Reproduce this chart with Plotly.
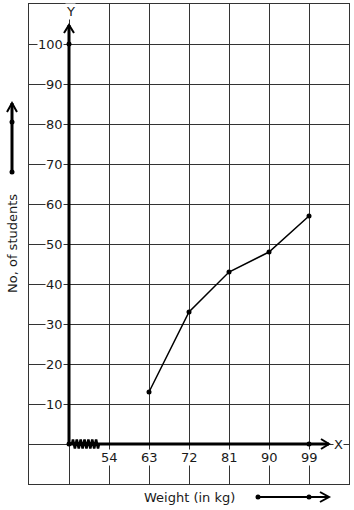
import numpy as np
import plotly.graph_objects as go

# Data
weights = [63, 72, 81, 90, 99]
students = [13, 33, 43, 48, 57]
x_tick_labels = [54, 63, 72, 81, 90, 99]
y_tick_labels = [10, 20, 30, 40, 50, 60, 70, 80, 90, 100]

X0, X1 = 36, 108   # grid extent (x)
Y0, Y1 = -10, 110  # grid extent (y)
ORIGIN_X = 45

W, H = 354, 510
L, R, T, B = 29, 5, 4, 26
pw, ph = W - L - R, H - T - B
sx = (X1 - X0) / pw   # data per px
sy = (Y1 - Y0) / ph

def px(dx):  # pixel offset -> data x
    return dx * sx
def py(dy):
    return dy * sy

FONT = "DejaVu Sans"
TXT = "#1a1a1a"

fig = go.Figure()

# axes (thick lines)
y_tip = 104.75
x_tip = 99 + px(20)
fig.add_trace(go.Scatter(x=[ORIGIN_X, ORIGIN_X], y=[0, y_tip], mode="lines",
                         line=dict(color="black", width=3), hoverinfo="skip", showlegend=False))
fig.add_trace(go.Scatter(x=[ORIGIN_X, x_tip], y=[0, 0], mode="lines",
                         line=dict(color="black", width=3), hoverinfo="skip", showlegend=False))
# arrowheads
fig.add_trace(go.Scatter(x=[ORIGIN_X - px(5), ORIGIN_X, ORIGIN_X + px(5)],
                         y=[y_tip - py(8), y_tip, y_tip - py(8)], mode="lines",
                         line=dict(color="black", width=2), hoverinfo="skip", showlegend=False))
fig.add_trace(go.Scatter(x=[x_tip - px(8), x_tip, x_tip - px(8)],
                         y=[py(5), 0, -py(5)], mode="lines",
                         line=dict(color="black", width=2), hoverinfo="skip", showlegend=False))
# zigzag (axis break)
zx = np.linspace(ORIGIN_X + px(3), ORIGIN_X + px(30), 29)
zy = np.array([0, 1, 0, -1] * 7 + [0]) * py(4.5)
fig.add_trace(go.Scatter(x=zx, y=zy, mode="lines", line=dict(color="black", width=2.5),
                         hoverinfo="skip", showlegend=False))
# axis dots
fig.add_trace(go.Scatter(x=[ORIGIN_X, ORIGIN_X, 99], y=[0, 100, 0], mode="markers",
                         marker=dict(color="black", size=5), cliponaxis=False,
                         hoverinfo="skip", showlegend=False))

# data polygon
fig.add_trace(go.Scatter(x=weights, y=students, mode="lines+markers",
                         line=dict(color="black", width=1.5),
                         marker=dict(color="black", size=5), showlegend=False))

ann = []
for v in y_tick_labels:
    ann.append(dict(x=ORIGIN_X, y=v, xref="x", yref="y", text=str(v), showarrow=False,
                    xanchor="right", yanchor="middle", xshift=-5, bgcolor="white",
                    borderpad=0, font=dict(family=FONT, size=13, color=TXT)))
for v in x_tick_labels:
    ann.append(dict(x=v, y=0, xref="x", yref="y", text=str(v), showarrow=False,
                    xanchor="center", yanchor="middle", yshift=-13, bgcolor="white",
                    borderpad=0, font=dict(family=FONT, size=13, color=TXT)))
ann.append(dict(x=ORIGIN_X, y=y_tip, xref="x", yref="y", text="Y", showarrow=False,
                xanchor="center", yanchor="middle", yshift=14, xshift=1, bgcolor="white",
                borderpad=0, font=dict(family=FONT, size=13, color=TXT)))
ann.append(dict(x=x_tip, y=0, xref="x", yref="y", text="X", showarrow=False,
                xanchor="left", yanchor="middle", xshift=4, bgcolor="white",
                borderpad=0, font=dict(family=FONT, size=13, color=TXT)))
ann.append(dict(x=(189 - L) / pw, y=-(497 - T - ph) / ph, xref="paper", yref="paper",
                text="Weight (in kg)", showarrow=False, xanchor="center", yanchor="middle",
                font=dict(family=FONT, size=13, color=TXT)))
ann.append(dict(x=(12 - L) / pw, y=(H - B - 244) / ph, xref="paper", yref="paper",
                text="No, of students", showarrow=False, textangle=-90,
                xanchor="center", yanchor="middle",
                font=dict(family=FONT, size=13, color=TXT)))

def pxp(xp):
    return (xp - L) / pw
def pyp(yp):
    return (H - B - yp) / ph

shapes = []
# left arrow
shapes.append(dict(type="line", xref="paper", yref="paper", x0=pxp(12), x1=pxp(12),
                   y0=pyp(172), y1=pyp(103), line=dict(color="black", width=3)))
shapes.append(dict(type="path", xref="paper", yref="paper",
                   path=f"M {pxp(7)} {pyp(112)} L {pxp(12)} {pyp(103)} L {pxp(17)} {pyp(112)}",
                   line=dict(color="black", width=2)))
for yy in (122, 172):
    shapes.append(dict(type="circle", xref="paper", yref="paper",
                       x0=pxp(9.5), x1=pxp(14.5), y0=pyp(yy - 2.5), y1=pyp(yy + 2.5),
                       fillcolor="black", line=dict(width=0)))
# bottom arrow
shapes.append(dict(type="line", xref="paper", yref="paper", x0=pxp(258), x1=pxp(329),
                   y0=pyp(497), y1=pyp(497), line=dict(color="black", width=2)))
shapes.append(dict(type="path", xref="paper", yref="paper",
                   path=f"M {pxp(320)} {pyp(492)} L {pxp(329)} {pyp(497)} L {pxp(320)} {pyp(502)}",
                   line=dict(color="black", width=2)))
for xx in (258, 309):
    shapes.append(dict(type="circle", xref="paper", yref="paper",
                       x0=pxp(xx - 2.5), x1=pxp(xx + 2.5), y0=pyp(497 - 2.5), y1=pyp(497 + 2.5),
                       fillcolor="black", line=dict(width=0)))

fig.update_layout(
    width=W, height=H, margin=dict(l=L, r=R, t=T, b=B),
    paper_bgcolor="white", plot_bgcolor="white",
    annotations=ann, shapes=shapes,
    xaxis=dict(range=[X0, X1], tick0=X0, dtick=9, showgrid=True, gridcolor="#333",
               gridwidth=1, showticklabels=False, ticks="", zeroline=False,
               showline=True, linecolor="#333", linewidth=1, mirror=True, fixedrange=True),
    yaxis=dict(range=[Y0, Y1], tick0=Y0, dtick=10, showgrid=True, gridcolor="#333",
               gridwidth=1, showticklabels=False, ticks="", zeroline=False,
               showline=True, linecolor="#333", linewidth=1, mirror=True, fixedrange=True),
)
fig.write_html("out.html")
